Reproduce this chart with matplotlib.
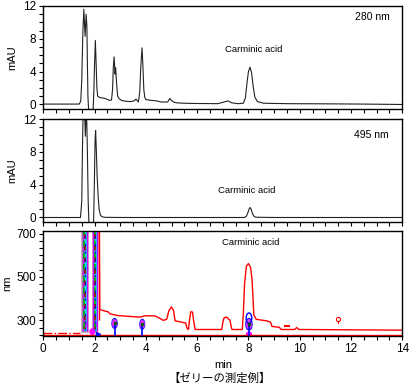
import numpy as np
import matplotlib
matplotlib.use("Agg")
import matplotlib.pyplot as plt
from matplotlib.patches import Ellipse
from matplotlib.ticker import MultipleLocator

plt.rcParams['font.family'] = ['Liberation Sans', 'DejaVu Sans']

# 280 nm chromatogram (min, mAU)
t_280 = [0.0, 1.0, 1.40, 1.46, 1.50, 1.54, 1.58, 1.63, 1.67, 1.70, 1.72, 1.74, 1.77,
         1.94, 1.97, 2.00, 2.03, 2.06, 2.09, 2.12, 2.20, 2.30, 2.40, 2.50, 2.60, 2.66,
         2.70, 2.73, 2.76, 2.80, 2.82, 2.86, 2.90, 2.96, 3.05, 3.20, 3.40, 3.55, 3.61,
         3.66, 3.71, 3.76, 3.80, 3.85, 3.88, 3.92, 3.96, 4.00, 4.20, 4.40, 4.60, 4.85,
         4.93, 5.00, 5.08, 5.20, 5.50, 6.00, 6.80, 7.05, 7.20, 7.35, 7.60, 7.80, 7.88,
         7.95, 8.00, 8.06, 8.12, 8.18, 8.25, 8.35, 8.60, 9.50, 11.0, 12.5, 14.0]
a_280 = [0.05, 0.05, 0.05, 0.4, 3.0, 8.5, 11.6, 8.3, 11.0, 9.5, 5.0, 1.0, -0.8,
         -0.8, 1.5, 5.0, 7.8, 5.0, 2.0, 1.0, 0.85, 0.8, 0.75, 0.6, 0.5, 0.55,
         1.8, 4.5, 5.8, 3.7, 4.5, 2.5, 1.0, 0.7, 0.5, 0.4, 0.35, 0.45, 0.65,
         0.5, 0.3, 1.5, 4.5, 6.9, 5.0, 1.8, 0.85, 0.6, 0.5, 0.45, 0.3, 0.3,
         0.73, 0.5, 0.3, 0.2, 0.15, 0.12, 0.1, 0.3, 0.44, 0.2, 0.1, 0.15, 0.8,
         2.8, 4.0, 4.55, 3.9, 2.3, 0.9, 0.35, 0.15, 0.1, 0.08, 0.05, 0.0]

# 495 nm chromatogram (min, mAU)
t_495 = [0.0, 1.0, 1.45, 1.50, 1.53, 1.56, 1.60, 1.64, 1.68, 1.72, 1.75, 1.78,
         1.96, 1.99, 2.02, 2.04, 2.07, 2.10, 2.14, 2.18, 2.23, 2.28, 2.40, 3.0,
         5.0, 7.0, 7.85, 7.92, 7.98, 8.03, 8.06, 8.10, 8.15, 8.20, 8.28, 9.0,
         11.0, 14.0]
a_495 = [0.0, 0.0, 0.0, 2.0, 9.0, 14.0, 14.0, 9.9, 14.0, 8.0, 2.0, -0.8,
         -0.8, 4.0, 9.5, 10.6, 8.0, 5.0, 2.5, 0.9, 0.3, 0.1, 0.02, 0.0,
         0.0, 0.0, 0.0, 0.15, 0.6, 1.05, 1.22, 1.05, 0.55, 0.2, 0.03, 0.0,
         0.0, 0.0]

# contour map: outermost red level line (min, nm)
ct_t = [2.18, 2.20, 2.30, 2.52, 2.60, 2.92, 3.40, 3.77, 3.96, 4.35, 4.50, 4.68,
        4.81, 4.90, 5.00, 5.08, 5.14, 5.55, 5.60, 5.66, 5.70, 5.75, 5.82, 5.86,
        5.92, 6.96, 7.00, 7.05, 7.15, 7.28, 7.33, 7.36, 7.76, 7.80, 7.85, 7.92,
        8.00, 8.08, 8.14, 8.18, 8.21, 8.30, 8.70, 8.86, 8.92, 9.20, 9.28, 9.80,
        9.88, 9.96, 14.0]
ct_nm = [712, 352, 346, 340, 330, 322, 318, 315, 321, 321, 312, 300,
         305, 345, 362, 345, 298, 288, 265, 258, 300, 340, 338, 300,
         258, 258, 290, 312, 315, 300, 270, 258, 258, 330, 470, 550,
         562, 545, 490, 400, 325, 305, 298, 292, 272, 268, 258, 258,
         267, 258, 255]

# saturated peaks (centre, half width in min)
sat_t = [1.62, 2.01]
sat_w = [0.15, 0.12]

# small peaks in contour map (min, nm, half width min, half height nm)
blob_t = [2.78, 3.86, 8.02]
blob_nm = [286, 282, 282]
blob_w = [0.10, 0.09, 0.12]
blob_h = [22, 22, 26]

fig = plt.figure(figsize=(4.15, 3.9), dpi=100)
L, W = 43.3 / 415, 359 / 415
ax1 = fig.add_axes([L, 1 - 109 / 390, W, 103 / 390])
ax2 = fig.add_axes([L, 1 - 222 / 390, W, 103 / 390])
ax3 = fig.add_axes([L, 1 - 336 / 390, W, 105 / 390])

ax1.plot(t_280, a_280, color='#222222', lw=0.8)
ax2.plot(t_495, a_495, color='#222222', lw=0.8)

for ax in (ax1, ax2):
    ax.set_ylim(-0.55, 12)
    ax.set_yticks([0, 4, 8, 12])
    ax.yaxis.set_minor_locator(MultipleLocator(1))
    ax.set_ylabel('mAU', fontsize=8, labelpad=4)
    ax.tick_params(labelbottom=False)

ax1.text(12.85, 10.6, '280 nm', fontsize=7.5, ha='center', va='center')
ax1.text(8.2, 6.7, 'Carminic acid', fontsize=6.8, ha='center', va='center')
ax2.text(12.8, 10.1, '495 nm', fontsize=7.5, ha='center', va='center')
ax2.text(7.95, 3.3, 'Carminic acid', fontsize=6.8, ha='center', va='center')

# contour map
red = '#ff0000'
ax3.plot([0, 14], [232, 232], color=red, lw=1)
ax3.plot([0, 1.45], [240, 240], color=red, lw=1, ls='-.')
ax3.plot(ct_t, ct_nm, color=red, lw=1)
ax3.plot([9.52], [273], marker='_', color=red, ms=4, mew=1.5)
ax3.plot([11.5, 11.5], [290, 300], color=red, lw=0.8)
ax3.plot([11.5], [305], marker='o', mfc='white', mec=red, ms=3, mew=0.8)

for c, w in zip(sat_t, sat_w):
    ax3.fill_betweenx([240, 712], c - w, c + w, color='#d9a8c8', lw=0)
    ax3.fill_betweenx([245, 712], c - 0.75 * w, c + 0.75 * w, color='#9a8fb0', lw=0)
    ax3.fill_betweenx([250, 712], c - 0.55 * w, c + 0.55 * w, color='#00e5ee', lw=0)
    ax3.vlines([c - 0.6 * w, c + 0.6 * w], 250, 712, color='#cc00ff', lw=1)
    ax3.vlines([c - 0.1 * w], 260, 712, color='#00b000', lw=1.2, linestyles=(0, (4, 3)))
    ax3.vlines([c + 0.15 * w], 262, 712, color='#a00000', lw=1.2, linestyles=(2, (3, 4)))
    ax3.vlines([c], 255, 712, color='#0000ff', lw=0.8, linestyles=(1, (2, 5)))
    ax3.add_patch(Ellipse((c, 280), 0.09, 25, fc='#00b000', ec='#cc00ff', lw=1))
ax3.vlines([sat_t[1] + 0.17], 300, 712, color=red, lw=1)
ax3.add_patch(Ellipse((1.91, 248), 0.12, 18, fc='white', ec='#ff00ff', lw=2))
ax3.plot([2.15], [236], marker='>', color='#0000ff', ms=3)

for c, n, w, h in zip(blob_t, blob_nm, blob_w, blob_h):
    ax3.vlines([c], 230, n, color='#0000ff', lw=1.2)
    ax3.add_patch(Ellipse((c, n), 2 * w, 2 * h, fc='none', ec='#0000ff', lw=1))
    ax3.add_patch(Ellipse((c, n), 1.5 * w, 1.5 * h, fc='#ccccff', ec='#cc33ff', lw=1.2))
    ax3.add_patch(Ellipse((c, n), 0.8 * w, 0.8 * h, fc='#00c000', ec='#ff00ff', lw=0.8))
    ax3.plot([c], [n], marker='o', color='#006000', ms=1.5)
ax3.add_patch(Ellipse((8.02, 310), 0.22, 48, fc='none', ec='#0000ff', lw=1))
ax3.add_patch(Ellipse((8.02, 238), 0.18, 12, fc='none', ec='#ff00ff', lw=1.2))

ax3.set_ylim(228, 712)
ax3.set_yticks([300, 500, 700])
ax3.yaxis.set_minor_locator(MultipleLocator(100 / 3))
ax3.set_ylabel('nm', fontsize=8, labelpad=3)
ax3.text(8.1, 660, 'Carminic acid', fontsize=6.8, ha='center', va='center')
ax3.set_xlabel('min', fontsize=8, labelpad=4)

for ax in (ax1, ax2, ax3):
    ax.set_xlim(0, 14)
    ax.set_xticks(range(0, 15, 2))
    ax.xaxis.set_minor_locator(MultipleLocator(0.5))
    ax.tick_params(which='both', direction='out', length=3, width=0.8,
                   labelsize=8.5, top=False, right=False, pad=2)
    for s in ax.spines.values():
        s.set_linewidth(1.0)

fig.text(0.53, 1 - 378 / 390, '【ゼリーの測定例】', fontsize=8.2, ha='center', va='center',
         family=['Noto Sans CJK JP', 'DejaVu Sans'])

fig.savefig('out.png', dpi=100)
